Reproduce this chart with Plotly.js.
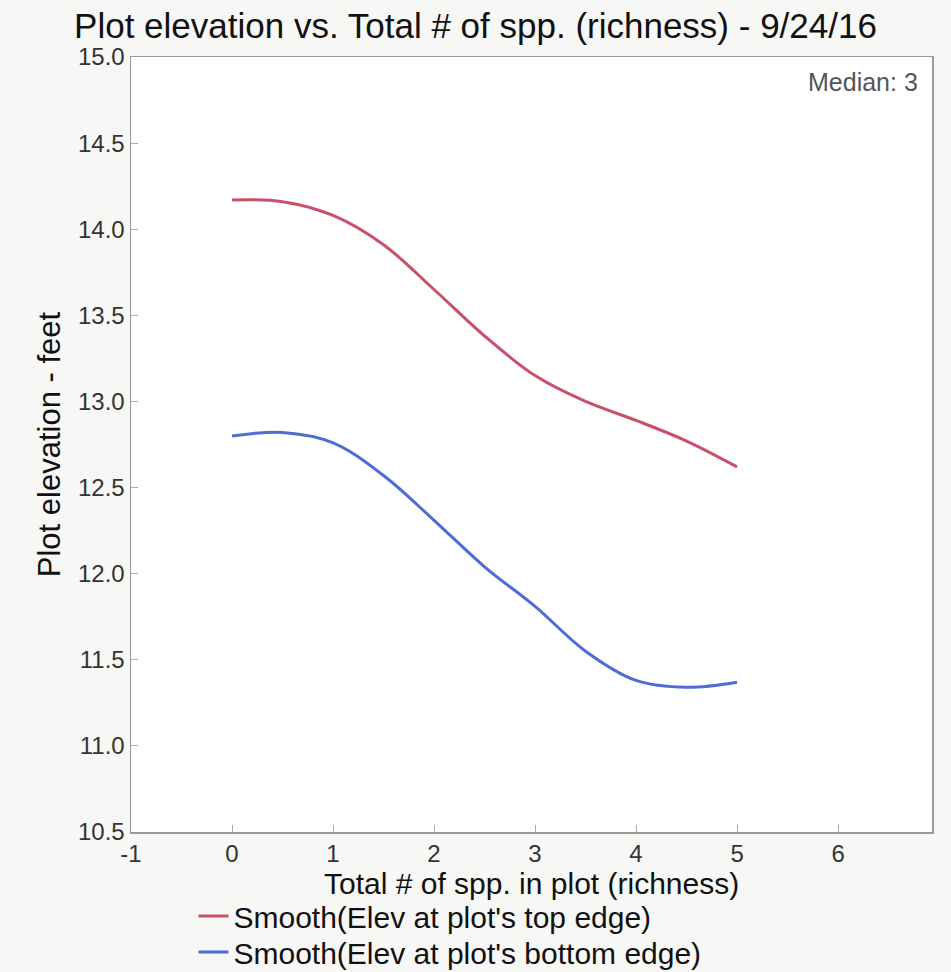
<!DOCTYPE html>
<html>
<head>
<meta charset="utf-8">
<script src="https://cdn.plot.ly/plotly-3.0.1.min.js"></script>
<style>html,body{margin:0;padding:0;background:#f7f7f5;}</style>
</head>
<body>
<div id="chart" style="width:951px;height:972px;"></div>
<script>
const richness = [0, 0.5, 1, 1.5, 2, 2.5, 3, 3.5, 4, 4.5, 5];
const topEdge = [14.17, 14.16, 14.08, 13.91, 13.65, 13.38, 13.15, 13.00, 12.89, 12.77, 12.62];
const bottomEdge = [12.80, 12.82, 12.76, 12.57, 12.31, 12.04, 11.81, 11.55, 11.38, 11.34, 11.37];
const xTicks = [-1, 0, 1, 2, 3, 4, 5, 6];
const yTicks = [10.5, 11.0, 11.5, 12.0, 12.5, 13.0, 13.5, 14.0, 14.5, 15.0];
const seriesNames = ["Smooth(Elev at plot's top edge)", "Smooth(Elev at plot's bottom edge)"];
const xTitle = 'Total # of spp. in plot (richness)';

const font = "Arial, 'Liberation Sans', sans-serif";

const traces = [
  {x: richness, y: topEdge, mode: 'lines', name: seriesNames[0], legend: 'legend', showlegend: true,
   line: {color: '#c8506b', width: 3, shape: 'spline', smoothing: 1}},
  {x: richness, y: bottomEdge, mode: 'lines', name: seriesNames[1], legend: 'legend2', showlegend: true,
   line: {color: '#4f6bd6', width: 3, shape: 'spline', smoothing: 1}}
];

const legendCommon = {orientation: 'v', x: 0.078, xanchor: 'left', yref: 'container', yanchor: 'middle',
  bgcolor: 'rgba(0,0,0,0)', font: {size: 30, color: '#111', family: font}, visible: true};

const layout = {
  width: 951, height: 972, showlegend: true,
  paper_bgcolor: '#f7f7f5', plot_bgcolor: '#ffffff',
  margin: {l: 131, r: 19, t: 57, b: 140, autoexpand: false},
  font: {family: font, color: '#222'},
  title: {text: 'Plot elevation vs. Total # of spp. (richness) - 9/24/16',
          font: {size: 35, color: '#111', family: font},
          x: 0.5, xref: 'container', y: 0.974, yref: 'container', yanchor: 'middle'},
  xaxis: {range: [-1, 6.93], tickvals: xTicks, ticktext: xTicks.map(String),
          ticks: 'inside', ticklen: 7, tickcolor: '#aaa', showgrid: false, zeroline: false,
          showline: true, linecolor: '#999', linewidth: 1.5, mirror: true,
          tickfont: {size: 24, color: '#333', family: font}},
  yaxis: {range: [10.5, 15], tickvals: yTicks, ticktext: yTicks.map(v => v.toFixed(1)), automargin: true,
          ticks: 'inside', ticklen: 7, tickcolor: '#aaa', showgrid: false, zeroline: false,
          showline: true, linecolor: '#999', linewidth: 1.5, mirror: true,
          tickfont: {size: 24, color: '#333', family: font},
          title: {text: 'Plot elevation - feet', font: {size: 31, color: '#111', family: font}, standoff: 8}},
  legend: Object.assign({}, legendCommon, {y: 1 - 916 / 972}),
  legend2: Object.assign({}, legendCommon, {y: 1 - 952 / 972}),
  annotations: [
    {text: 'Median: 3', xref: 'paper', yref: 'paper', x: 0.985, y: 0.988,
     xanchor: 'right', yanchor: 'top', showarrow: false,
     font: {size: 25, color: '#555', family: font}},
    {text: xTitle, xref: 'paper', yref: 'paper', x: 0.5, y: -0.066,
     xanchor: 'center', yanchor: 'middle', showarrow: false,
     font: {size: 30, color: '#111', family: font}}
  ]
};

Plotly.newPlot('chart', traces, layout, {displayModeBar: false, staticPlot: true});
</script>
</body>
</html>
